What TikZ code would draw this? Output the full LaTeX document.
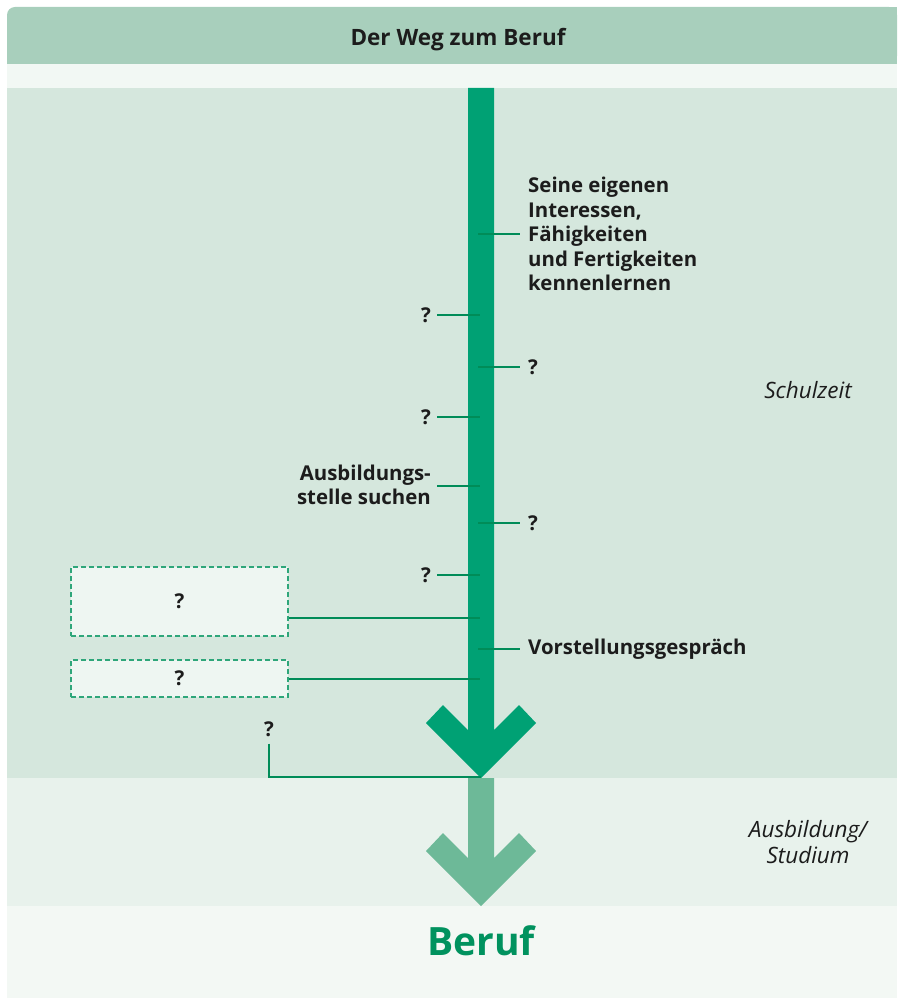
\documentclass[tikz,border=0pt]{standalone}
\usepackage{fontspec}
\setmainfont{Open Sans}
\definecolor{hdr}{HTML}{A8CFBC}
\definecolor{strip}{HTML}{F2F8F4}
\definecolor{mainbg}{HTML}{D5E7DD}
\definecolor{lowbg}{HTML}{E8F2EC}
\definecolor{botbg}{HTML}{F3F8F4}
\definecolor{arrdark}{HTML}{00A174}
\definecolor{arrlight}{HTML}{6DB998}
\definecolor{conn}{HTML}{008C58}
\definecolor{boxfill}{HTML}{EEF6F2}
\definecolor{boxline}{HTML}{2EA67A}
\definecolor{txt}{HTML}{1C1C1C}
\definecolor{berufc}{HTML}{00925E}
\tikzset{
  lbl/.style={font=\fontsize{20.4}{24.5}\selectfont\bfseries, text=txt, inner ysep=0pt},
  rlbl/.style={lbl, anchor=west, inner xsep=8pt, align=left},
  llbl/.style={lbl, anchor=east, inner xsep=6pt, align=right},
  ital/.style={font=\fontsize{22.5}{26}\selectfont\itshape, text=txt, align=center},
  connector/.style={draw=conn, line width=2.2pt},
  dbox/.style={draw=boxline, fill=boxfill, dashed, dash pattern=on 5pt off 3pt, line width=1.3pt, minimum width=217pt, inner sep=0pt, font=\fontsize{20.4}{24}\selectfont\bfseries, text=txt}
}
\begin{document}
\begin{tikzpicture}[x=1pt,y=-1pt]
\useasboundingbox (0,0) rectangle (897,1000);
% bands
\fill[hdr, rounded corners=8pt] (7,7) rectangle (897,64);
\fill[hdr] (20,7) rectangle (897,64);
\fill[hdr] (7,30) rectangle (897,64);
\fill[strip] (7,64) rectangle (897,88);
\fill[mainbg] (7,88) rectangle (897,778);
\fill[lowbg] (7,778) rectangle (897,906);
\fill[botbg] (7,906) rectangle (897,998);
\node[font=\fontsize{22.5}{26}\selectfont\bfseries, text=txt] (title) at (458,40) {Der Weg zum Beruf};
% light arrow
\fill[arrlight] (468,778) -- (468,858) -- (443,833) -- (426,851) -- (481,906) -- (536,851) -- (519,833) -- (494,858) -- (494,778) -- cycle;
% dark arrow
\fill[arrdark] (468,88) -- (468,730) -- (443,705) -- (426,723) -- (481,778) -- (536,723) -- (519,705) -- (494,730) -- (494,88) -- cycle;
% shaft points
\coordinate (s1) at (478,234);
\coordinate (s2) at (480,315);
\coordinate (s3) at (478,367);
\coordinate (s4) at (480,417);
\coordinate (s5) at (480,486);
\coordinate (s6) at (478,523);
\coordinate (s7) at (480,575);
\coordinate (s8) at (480,618);
\coordinate (s9) at (478,649);
\coordinate (s10) at (480,679);
\coordinate (tip) at (481,777);
% labels
\node[rlbl] (t1) at (520,234) {Seine eigenen\\Interessen,\\Fähigkeiten\\und Fertigkeiten\\kennenlernen};
\node[llbl] (t2) at (437,315) {?};
\node[rlbl] (t3) at (520,367) {?};
\node[llbl] (t4) at (437,417) {?};
\node[llbl] (t5) at (437,485) {Ausbildungs-\\stelle suchen};
\node[rlbl] (t6) at (520,523) {?};
\node[llbl] (t7) at (437,575) {?};
\node[dbox, minimum height=69pt] (b1) at (179.5,601.5) {?};
\node[rlbl] (t9) at (520,649) {Vorstellungsgespräch};
\node[dbox, minimum height=37pt] (b2) at (179.5,678.5) {?};
\node[lbl, inner sep=3pt] (q7) at (269,729) {?};
% connectors
\draw[connector] (s1) -- (t1.west);
\draw[connector] (t2.east) -- (s2);
\draw[connector] (s3) -- (t3.west);
\draw[connector] (t4.east) -- (s4);
\draw[connector] (t5.east |- s5) -- (s5);
\draw[connector] (s6) -- (t6.west);
\draw[connector] (t7.east) -- (s7);
\draw[connector] (b1.east |- s8) -- (s8);
\draw[connector] (s9) -- (t9.west);
\draw[connector] (b2.east |- s10) -- (s10);
\draw[connector, shorten <=4pt] (q7.south) |- (tip);
% italic labels
\node[ital] (schul) at (808,390) {Schulzeit};
\node[ital] (ausb) at (808,842) {Ausbildung/\\Studium};
\node[font=\fontsize{39}{44}\selectfont\bfseries, text=berufc] (beruf) at (481,941) {Beruf};
\end{tikzpicture}
\end{document}
